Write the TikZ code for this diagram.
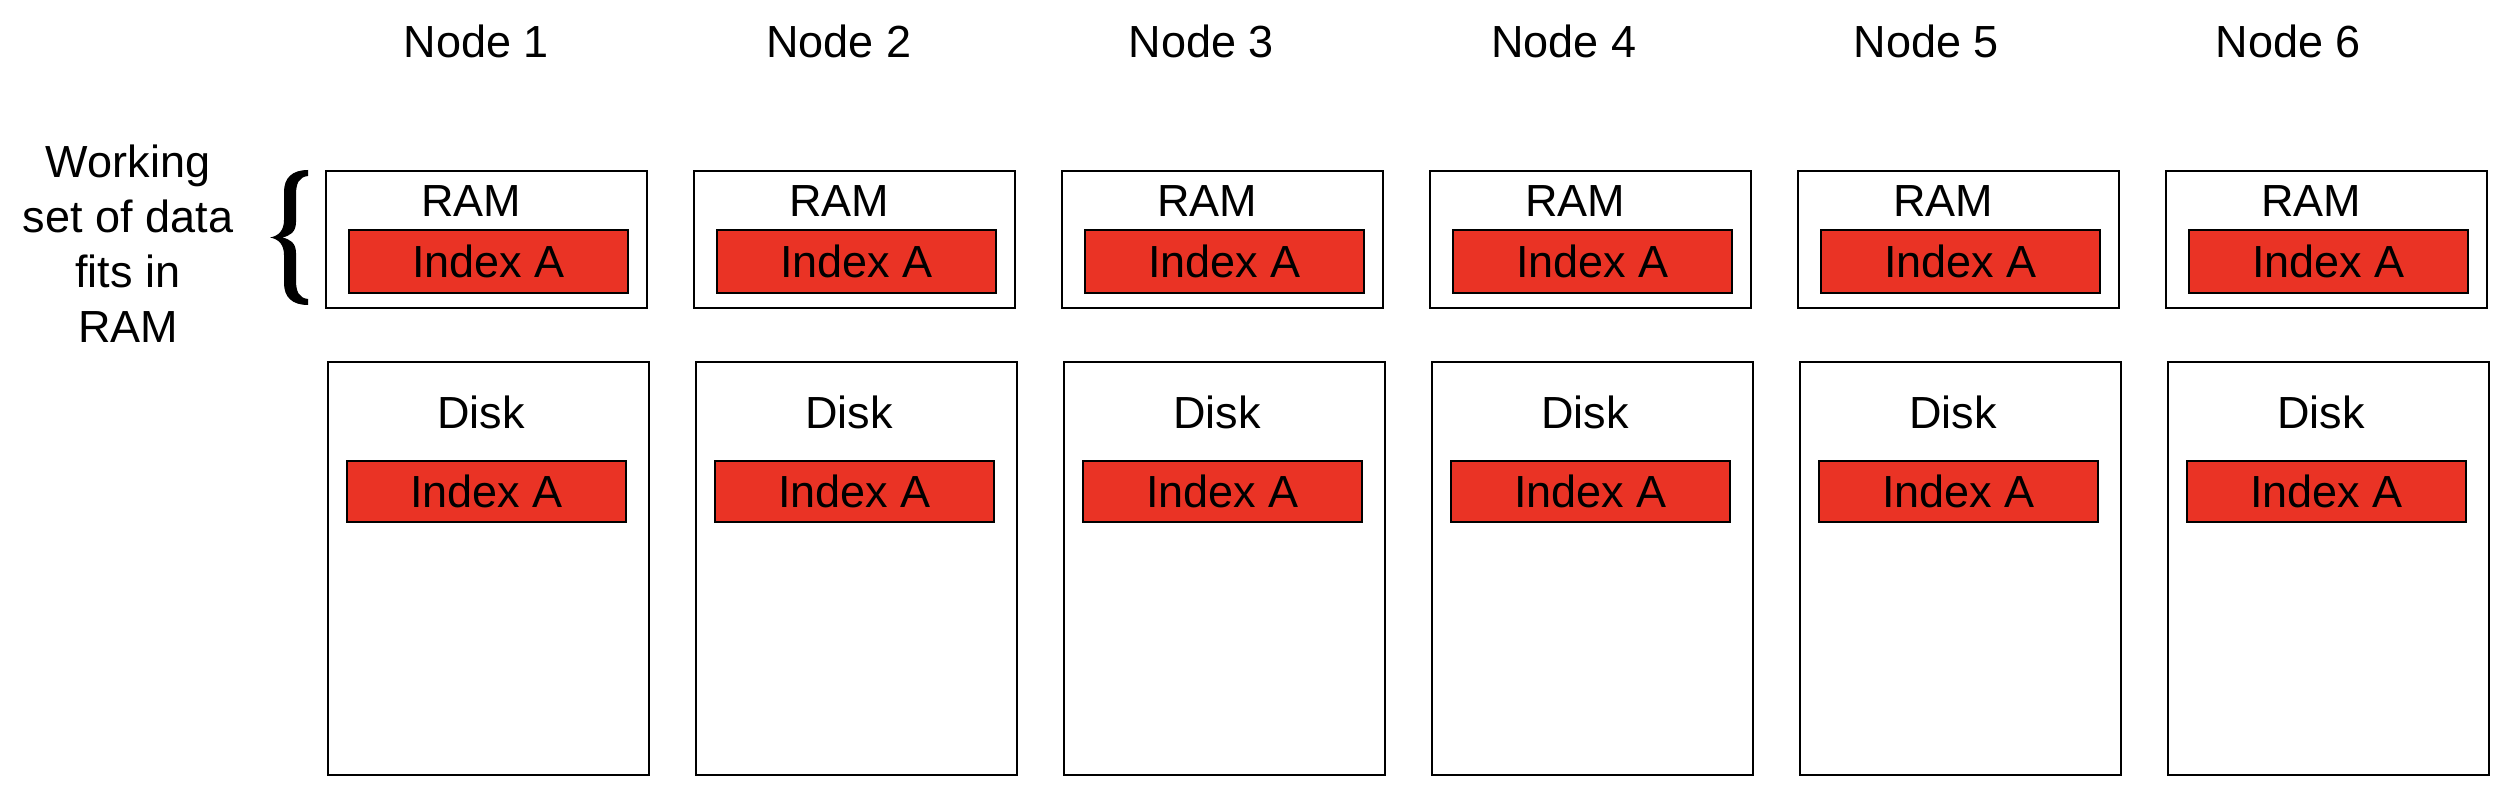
\documentclass[tikz,border=0pt]{standalone}
\usepackage{fontspec}
\setmainfont{Liberation Sans}
\definecolor{idxred}{RGB}{234,51,37}
\begin{document}
\begin{tikzpicture}[x=1pt,y=-1pt,
  txt/.style={inner sep=0pt,anchor=base,font=\fontsize{45}{52}\selectfont},
  outerbox/.style={draw=black,line width=1.4pt,fill=white,inner sep=0pt},
  idxbox/.style={draw=black,line width=1.4pt,fill=idxred,inner sep=0pt,
    minimum width=279pt,font=\fontsize{45}{52}\selectfont,text height=32pt,text depth=0pt}]
\useasboundingbox (0,0) rectangle (2512,794);
\foreach \i in {1,...,6}{
  \pgfmathsetmacro{\xo}{326+368*(\i-1)}
  \pgfmathsetmacro{\xl}{476.5+362.4*(\i-1)}
  \node[txt] (lab\i) at (\xl,57.5) {Node \i};
  \node[outerbox,minimum width=321pt,minimum height=137pt] (ram\i) at (\xo+160.5,239.5) {};
  \node[txt] (ramt\i) at (\xo+145,217) {RAM};
  \node[idxbox,minimum height=63pt] (rami\i) at (\xo+162.5,261.5) {Index A};
  \node[outerbox,minimum width=321pt,minimum height=413pt] (disk\i) at (\xo+162.5,568.5) {};
  \node[txt] (diskt\i) at (\xo+155,428) {Disk};
  \node[idxbox,minimum height=61pt] (diski\i) at (\xo+160.5,491.5) {Index A};
}
\node[txt] (ws1) at (128,178) {Working};
\node[txt] (ws2) at (128,233) {set of data};
\node[txt] (ws3) at (128,288) {fits in};
\node[txt] (ws4) at (128,343) {RAM};
\fill[black] (308,170) -- (308,176) .. controls (299,177) and (296,183) .. (296,195)
  -- (296,222) .. controls (296,232) and (290,236) .. (282,237.5)
  .. controls (290,239) and (296,243) .. (296,253)
  -- (296,280) .. controls (296,292) and (299,298) .. (308,299)
  -- (308,305) .. controls (292,305) and (284,297) .. (284,283)
  -- (284,255) .. controls (284,245) and (279,239) .. (270,237.5)
  .. controls (279,236) and (284,230) .. (284,220)
  -- (284,192) .. controls (284,178) and (292,170) .. (308,170) -- cycle;
\end{tikzpicture}
\end{document}
